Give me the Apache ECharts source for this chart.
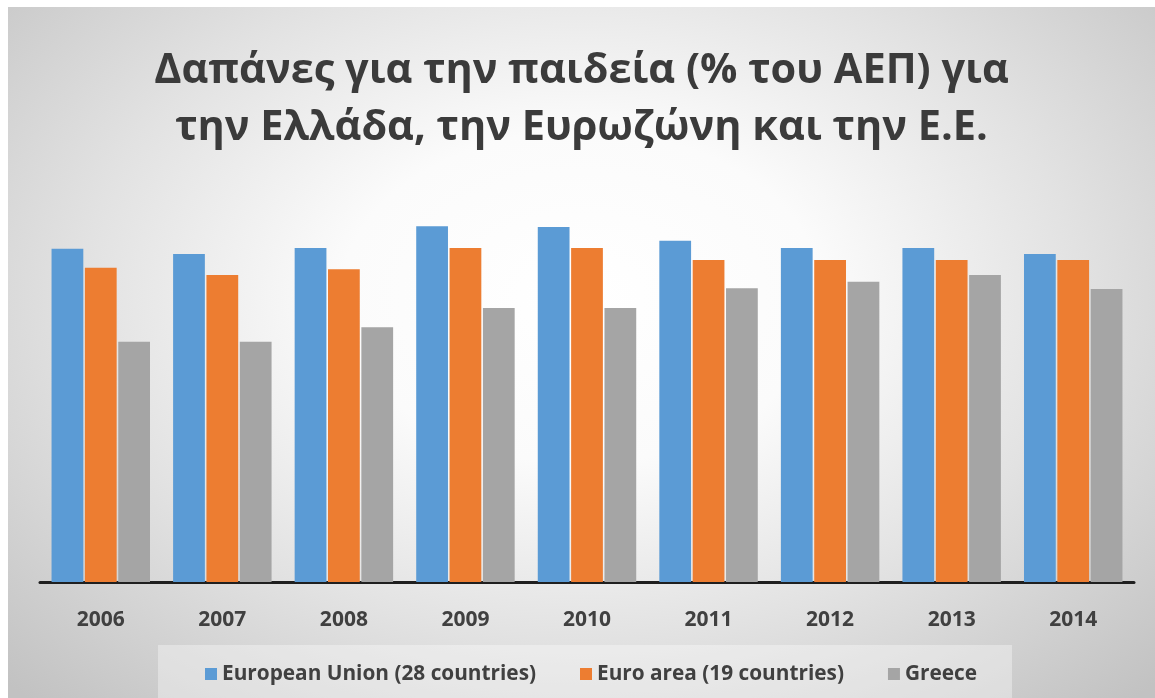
<!DOCTYPE html>
<html>
<head>
<meta charset="utf-8">
<script src="https://cdn.jsdelivr.net/npm/echarts@6/dist/echarts.min.js"></script>
<style>
  html, body { margin: 0; padding: 0; background: #ffffff; }
  #wrap { position: relative; width: 1155px; height: 698px; background: #ffffff; overflow: hidden; }
  #chart {
    position: absolute; left: 8px; top: 7px; width: 1147px; height: 691px;
    background: radial-gradient(ellipse 70% 80% at 50% 42%, #ffffff 0%, #fbfbfb 30%, #e2e2e2 62%, #c2c2c2 100%);
  }
</style>
</head>
<body>
<div id="wrap"><div id="chart"></div></div>
<script>
const titleLines = ['Δαπάνες για την παιδεία (% του ΑΕΠ) για', 'την Ελλάδα, την Ευρωζώνη και την Ε.Ε.'];
const years = ['2006', '2007', '2008', '2009', '2010', '2011', '2012', '2013', '2014'];
const seriesNames = ['European Union (28 countries)', 'Euro area (19 countries)', 'Greece'];
const euValues = [5.05, 4.97, 5.06, 5.39, 5.38, 5.17, 5.06, 5.06, 4.97];
const euroAreaValues = [4.76, 4.65, 4.74, 5.06, 5.06, 4.88, 4.88, 4.88, 4.88];
const greeceValues = [3.64, 3.64, 3.86, 4.15, 4.15, 4.45, 4.55, 4.65, 4.44];
const colors = ['#5B9BD5', '#ED7D31', '#A5A5A5'];

const chart = echarts.init(document.getElementById('chart'), null, { renderer: 'canvas' });
const textColor = '#404040';
const fam = '"Open Sans", "Noto Sans", sans-serif';

chart.setOption({
  animation: false,
  title: {
    text: titleLines.join('\n'),
    left: 'center',
    top: 31,
    textStyle: { fontFamily: fam, fontSize: 41.5, fontWeight: 'bold', color: '#3b3b3b', lineHeight: 57 }
  },
  legend: {
    data: seriesNames,
    left: 150,
    top: 638,
    padding: [18, 35, 18, 47],
    backgroundColor: 'rgba(255,255,255,0.35)',
    icon: 'rect',
    itemWidth: 12,
    itemHeight: 12,
    itemGap: 44,
    textStyle: { fontFamily: fam, fontSize: 20.8, fontWeight: 'bold', color: textColor, lineHeight: 22 }
  },
  grid: { left: 32, right: 21, top: 179, bottom: 116, containLabel: false },
  xAxis: {
    type: 'category',
    data: years,
    axisLine: { show: true, lineStyle: { color: '#1f1f1f', width: 3 } },
    axisTick: { show: false },
    axisLabel: { margin: 27, fontFamily: fam, fontSize: 21, fontWeight: 'bold', color: textColor, lineHeight: 22 }
  },
  yAxis: {
    type: 'value',
    min: 0,
    max: 6,
    show: false,
    splitLine: { show: false }
  },
  series: [
    { name: seriesNames[0], type: 'bar', data: euValues, itemStyle: { color: colors[0] }, barGap: '5%', barCategoryGap: '19%' },
    { name: seriesNames[1], type: 'bar', data: euroAreaValues, itemStyle: { color: colors[1] }, barGap: '5%', barCategoryGap: '19%' },
    { name: seriesNames[2], type: 'bar', data: greeceValues, itemStyle: { color: colors[2] }, barGap: '5%', barCategoryGap: '19%' }
  ]
});
</script>
</body>
</html>
